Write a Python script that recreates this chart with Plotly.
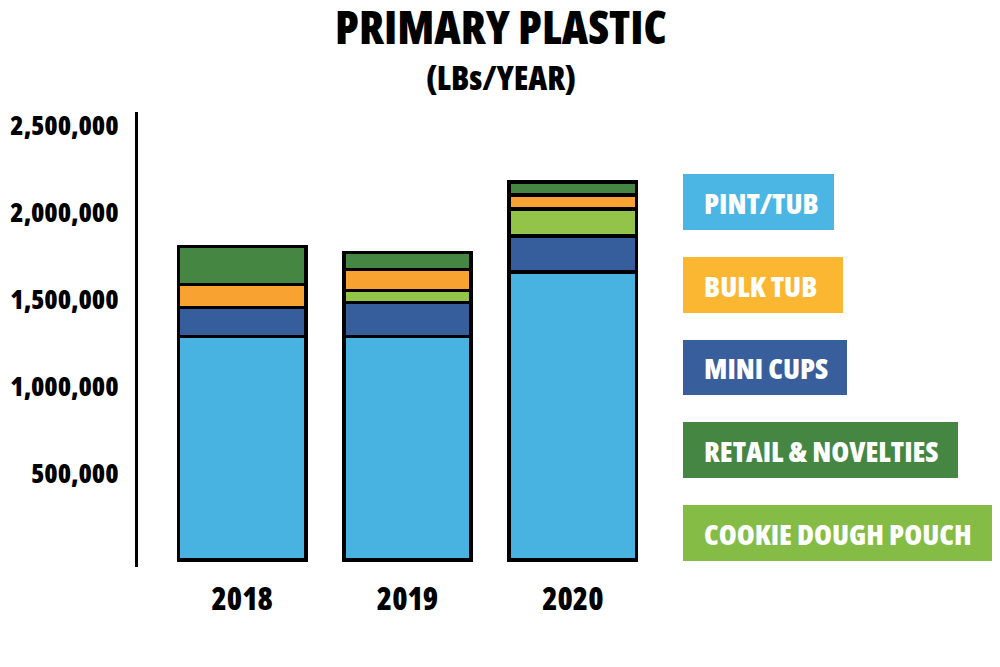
import plotly.graph_objects as go

years = ["2018", "2019", "2020"]
pint_tub = [1285000, 1285000, 1655000]
mini_cups = [167000, 196000, 207000]
cookie_dough = [0, 69000, 156000]
bulk_tub = [132000, 121000, 81000]
retail_novelties = [219000, 98000, 75000]

tick_vals = [500000, 1000000, 1500000, 2000000, 2500000]
tick_text = ["500,000", "1,000,000", "1,500,000", "2,000,000", "2,500,000"]

legend_labels = ["PINT/TUB", "BULK TUB", "MINI CUPS", "RETAIL & NOVELTIES", "COOKIE DOUGH POUCH"]

C_PINT = "#48B3E0"
C_MINI = "#375E9C"
C_COOKIE = "#94C349"
C_BULK = "#F7A231"
C_RETAIL = "#458643"
LEG_COLORS = ["#4BB5E3", "#FBB731", "#385E9C", "#458643", "#84BC46"]

FONT = "Open Sans"


def cond(s):
    return '<span style="font-stretch:75%">' + s.replace("&", "&amp;") + "</span>"


fig = go.Figure()
series = [
    ("PINT/TUB", pint_tub, C_PINT),
    ("MINI CUPS", mini_cups, C_MINI),
    ("COOKIE DOUGH POUCH", cookie_dough, C_COOKIE),
    ("BULK TUB", bulk_tub, C_BULK),
    ("RETAIL & NOVELTIES", retail_novelties, C_RETAIL),
]
for name, vals, col in series:
    fig.add_trace(go.Bar(
        x=years, y=vals, name=name,
        marker=dict(color=col, line=dict(color="black", width=3.5)),
        showlegend=False,
    ))

OFF = 8  # page body margin
W, H = 1000, 667
L = 138 - OFF
T = 112 - OFF
B = H - (567 - OFF)
R = W - (677 - OFF)
pw = W - L - R
ph = H - T - B


def px_x(x):
    return (x - OFF - L) / pw


def px_y(y):
    return (H - B - (y - OFF)) / ph


boxes = [(683, 834, 174, 230), (683, 843, 257, 313), (683, 847, 340, 395),
         (683, 958, 422, 478), (683, 996, 505, 561)]
for (x0, x1, y0, y1), lab, col in zip(boxes, legend_labels, LEG_COLORS):
    fig.add_shape(type="rect", xref="paper", yref="paper",
                  x0=px_x(x0), x1=px_x(x1), y0=px_y(y1), y1=px_y(y0),
                  fillcolor=col, line=dict(width=0), layer="above")
    fig.add_annotation(xref="paper", yref="paper", x=px_x(x0 + 19), y=px_y((y0 + y1) / 2),
                       xanchor="left", yanchor="middle", text=cond(lab), showarrow=False,
                       font=dict(family=FONT, size=29, color="white", weight=800))

fig.add_annotation(xref="paper", yref="paper", x=px_x(501), y=px_y(26),
                   xanchor="center", yanchor="middle", text=cond("PRIMARY PLASTIC"), showarrow=False,
                   font=dict(family=FONT, size=46, color="black", weight=800))
fig.add_annotation(xref="paper", yref="paper", x=px_x(501), y=px_y(77),
                   xanchor="center", yanchor="middle", text=cond("(LBs/YEAR)"), showarrow=False,
                   font=dict(family=FONT, size=33, color="black", weight=800))

fig.update_layout(
    width=W, height=H,
    margin=dict(l=L, r=R, t=T, b=B, pad=0, autoexpand=False),
    barmode="stack", bargap=0.23,
    plot_bgcolor="white", paper_bgcolor="white",
    font=dict(family=FONT, color="black"),
    xaxis=dict(range=[-0.63, 2.63], showline=False, showgrid=False, zeroline=False,
               automargin=False, tickvals=years, ticktext=[cond(y) for y in years],
               ticks="", tickfont=dict(family=FONT, size=31, color="black", weight=800),
               ticklabelstandoff=11, fixedrange=True),
    yaxis=dict(range=[-40000, 2576000], showline=True, linecolor="black", linewidth=3,
               showgrid=False, zeroline=False, ticks="", automargin=False,
               tickvals=tick_vals, ticktext=[cond(t) for t in tick_text],
               tickfont=dict(family=FONT, size=27, color="black", weight=800),
               ticklabelstandoff=11, fixedrange=True),
)

fig.write_html("out.html")
